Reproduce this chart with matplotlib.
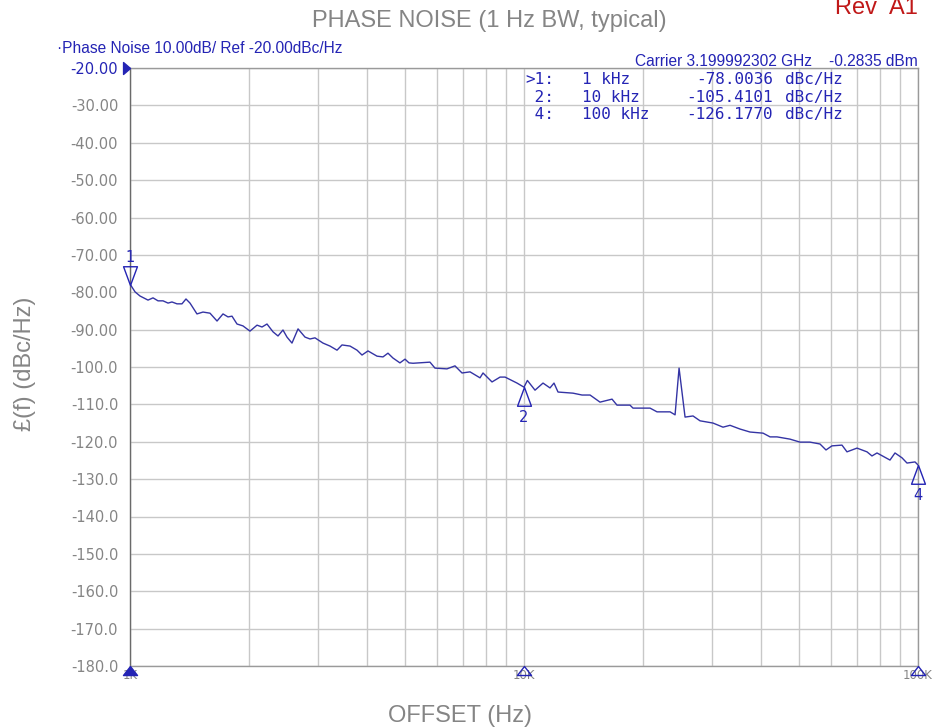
import matplotlib
matplotlib.use('Agg')
import matplotlib.pyplot as plt
from matplotlib.path import Path

# trace (offset Hz, dBc/Hz)
freq_hz = [1000, 1030, 1060, 1111, 1144, 1178, 1213, 1249, 1278, 1316,
           1355, 1387, 1420, 1479, 1532, 1596, 1663, 1722, 1773, 1815,
           1869, 1935, 2016, 2101, 2163, 2227, 2307, 2375, 2445, 2503,
           2577, 2670, 2781, 2863, 2948, 3089, 3218, 3353, 3452, 3618,
           3769, 3880, 4018, 4236, 4386, 4516, 4650, 4843, 4989, 5107,
           5228, 5772, 5944, 6375, 6681, 6961, 7295, 7733, 7870, 8295,
           8694, 8952, 9600, 10000, 10200, 10665, 11175, 11641, 11916, 12200,
           13316, 14040, 14712, 15592, 16728, 17219, 18578, 18907, 19703, 20887,
           21760, 23486, 24178, 24750, 25631, 26853, 27976, 30183, 31997, 33334,
           35340, 37473, 40436, 42124, 43878, 47328, 50177, 53197, 56397, 58408,
           60480, 64131, 66032, 70007, 74219, 76417, 78693, 84900, 87417, 91068,
           93780, 98264, 100000]
noise_dbc = [-77.8, -79.9, -81.0, -82.1, -81.5, -82.3, -82.3, -82.9, -82.6, -83.1,
             -83.1, -81.8, -82.9, -85.8, -85.3, -85.6, -87.7, -85.8, -86.6, -86.4,
             -88.5, -89.0, -90.4, -88.8, -89.3, -88.5, -90.6, -91.7, -90.1, -92.0,
             -93.6, -89.8, -92.0, -92.5, -92.2, -93.6, -94.4, -95.5, -94.1, -94.4,
             -95.5, -96.8, -95.7, -97.1, -97.3, -96.3, -97.6, -98.9, -97.9, -98.9,
             -99.0, -98.7, -100.3, -100.5, -99.7, -101.6, -101.3, -102.9, -101.6, -104.0,
             -102.7, -102.7, -104.3, -105.4, -103.6, -106.2, -104.3, -105.6, -104.3, -106.7,
             -107.0, -107.5, -107.5, -109.4, -108.6, -110.2, -110.2, -111.0, -111.0, -111.0,
             -112.0, -112.0, -112.8, -100.3, -113.4, -113.1, -114.4, -115.0, -116.1, -115.6,
             -116.6, -117.4, -117.7, -118.7, -118.7, -119.3, -120.1, -120.1, -120.6, -122.2,
             -121.1, -120.9, -122.7, -121.7, -122.7, -123.8, -123.0, -124.9, -123.0, -124.3,
             -125.7, -125.4, -126.2]

marker_ids = ['1', '2', '4']
marker_freq = [1000, 10000, 100000]
marker_dbc = [-78.0036, -105.4101, -126.1770]
marker_tags = ['>1:', ' 2:', ' 4:']
marker_freq_txt = ['1 kHz', '10 kHz', '100 kHz']
marker_val_txt = ['-78.0036', '-105.4101', '-126.1770']

y_ticks = list(range(-20, -181, -10))
y_labels = ['-20.00', '-30.00', '-40.00', '-50.00', '-60.00', '-70.00', '-80.00',
            '-90.00', '-100.0', '-110.0', '-120.0', '-130.0', '-140.0', '-150.0',
            '-160.0', '-170.0', '-180.0']
x_ticks = [1000, 10000, 100000]
x_labels = ['1K', '10K', '100K']

blue = '#2424b4'
trace_c = '#3434a4'
gray = '#858585'

W, H = 939, 728
fig = plt.figure(figsize=(W / 100, H / 100), dpi=100)
ax = fig.add_axes([130 / W, 1 - 666 / H, (918 - 130) / W, (666 - 68) / H])

ax.set_xscale('log')
ax.set_xlim(1000, 100000)
ax.set_ylim(-180, -20)
ax.set_yticks(y_ticks)
ax.set_yticklabels(y_labels)
ax.set_xticks(x_ticks)
ax.set_xticklabels(x_labels)
ax.set_xticks([m * d for d in (1000, 10000) for m in range(2, 10)], minor=True)
ax.set_xticklabels([], minor=True)
ax.tick_params(axis='x', which='both', length=0, pad=2, labelsize=8.5, labelcolor=gray)
ax.tick_params(axis='y', length=0, pad=8.5, labelsize=10.5, labelcolor=gray)
ax.get_yticklabels()[0].set_color(blue)
ax.grid(True, which='both', color='#c8c8c8', lw=1.0)
for s in ax.spines.values():
    s.set_color('#9a9a9a')
    s.set_linewidth(1.0)
ax.spines['left'].set_color('#6a6a6a')

ax.plot(freq_hz, noise_dbc, color=trace_c, lw=1.0, zorder=3)

# marker symbols, tip sitting on the trace
down_tri = Path([(0, 0), (-0.37, 1), (0.37, 1), (0, 0)], [1, 2, 2, 79])
up_tri = Path([(0, 0), (-0.37, -1), (0.37, -1), (0, 0)], [1, 2, 2, 79])
flat_tri = Path([(0, 0), (-0.78, -1), (0.78, -1), (0, 0)], [1, 2, 2, 79])
ref_tri = Path([(0, 0), (-1, 0.86), (-1, -0.86), (0, 0)], [1, 2, 2, 79])

for i, (f, v) in enumerate(zip(marker_freq, marker_dbc)):
    mk = down_tri if i == 0 else up_tri
    ax.plot([f], [v], marker=mk, ms=27, mfc='none', mec=blue, mew=1.0,
            clip_on=False, zorder=4)
    dy = 20 if i == 0 else -22
    ax.annotate(marker_ids[i], (f, v), xytext=(0, dy), textcoords='offset points',
                ha='center', va='center', color=blue, fontsize=10.5, annotation_clip=False)
    ax.plot([f], [-180], marker=flat_tri, ms=13, mfc=blue if i == 0 else 'none',
            mec=blue, mew=1.0, clip_on=False, zorder=4)
ax.plot([1000], [-20], marker=ref_tri, ms=10, mfc=blue, mec=blue, clip_on=False, zorder=4)

# texts around the plot
fig.text(489 / W, 1 - 27 / H, 'PHASE NOISE (1 Hz BW, typical)', ha='center',
         va='baseline', color=gray, fontsize=17, family='Liberation Sans')
fig.text(918 / W, 1 - 14 / H, 'Rev  A1', ha='right', va='baseline',
         color='#c01818', fontsize=17, family='Liberation Sans')
fig.text(460 / W, 1 - 722 / H, 'OFFSET (Hz)', ha='center', va='baseline',
         color=gray, fontsize=17, family='Liberation Sans')
fig.text(25 / W, 1 - 364 / H, '£(f) (dBc/Hz)', ha='center', va='center',
         rotation=90, color=gray, fontsize=17, family='Liberation Sans')
fig.text(57 / W, 1 - 53 / H, '·Phase Noise 10.00dB/ Ref -20.00dBc/Hz', ha='left',
         va='baseline', color=blue, fontsize=11.2, family='Liberation Sans')
fig.text(918 / W, 1 - 66 / H, 'Carrier 3.199992302 GHz    -0.2835 dBm', ha='right',
         va='baseline', color=blue, fontsize=11.2, family='Liberation Sans')

for r, yb in enumerate([84, 102, 119]):
    kw = dict(va='baseline', color=blue, fontsize=11.5, family='DejaVu Sans Mono')
    fig.text(525 / W, 1 - yb / H, marker_tags[r], ha='left', **kw)
    fig.text(582 / W, 1 - yb / H, marker_freq_txt[r], ha='left', **kw)
    fig.text(773 / W, 1 - yb / H, marker_val_txt[r], ha='right', **kw)
    fig.text(785 / W, 1 - yb / H, 'dBc/Hz', ha='left', **kw)

fig.savefig('out.png', dpi=100)
